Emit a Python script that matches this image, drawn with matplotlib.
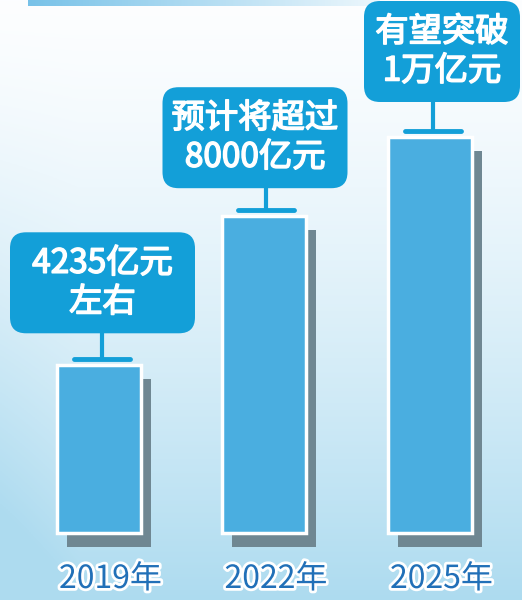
import matplotlib
matplotlib.use('Agg')
import matplotlib.pyplot as plt
import matplotlib.patheffects as pe
from matplotlib.patches import FancyBboxPatch, Rectangle
import numpy as np

# data
years = ['2019年', '2022年', '2025年']
values = [4235, 8000, 10000]
notes = ['4235亿元\n左右', '预计将超过\n8000亿元', '有望突破\n1万亿元']

plt.rcParams['font.family'] = ['Noto Sans CJK SC', 'DejaVu Sans']

# pixel layout helpers (figure is 522x600 px)
W, H = 522, 600
ppv = 0.0396      # pixels per unit value
base_px = 533     # baseline pixel row
x0_px, step_px = 98.5, 165.5

def dxp(px):
    return px / step_px

def dyp(px):
    return px / ppv

fig = plt.figure(figsize=(W / 100, H / 100), dpi=100)
ax = fig.add_axes([0, 0, 1, 1])
ax.set_xlim(-x0_px / step_px, (W - x0_px) / step_px)
ax.set_ylim(-(H - base_px) / ppv, base_px / ppv)
ax.axis('off')

# background gradient, white at top -> light blue at bottom, a bit bluer at the left
gy = np.linspace(0, 1, 256).reshape(-1, 1) ** 1.4
gx = np.clip(1 - np.linspace(0, 1, 256).reshape(1, -1) / 0.15, 0, 1) * 0.25
g = np.clip(gy + gx * gy, 0, 1)
top = np.array([0.99, 0.995, 1.0])
bot = np.array([0.68, 0.86, 0.94])
img = top + (bot - top) * g[:, :, None]
ax.imshow(img, extent=[*ax.get_xlim(), ax.get_ylim()[0], ax.get_ylim()[1]],
          origin='upper', aspect='auto', zorder=0)

# cut-off title strip at the very top
strip = np.linspace(0, 1, 256).reshape(1, -1)
c1 = np.array([0.47, 0.76, 0.91])
c2 = np.array([0.93, 0.97, 0.99])
simg = c1 + (c2 - c1) * strip[:, :, None]
ax.imshow(simg, extent=[dxp(28 - x0_px), dxp(380 - x0_px), dyp(base_px - 6), dyp(base_px)],
          aspect='auto', zorder=1)

x = np.arange(len(years))
bw = dxp(84)

# shadows
for xi, v in zip(x, values):
    ax.add_patch(Rectangle((xi - bw / 2 + dxp(10), dyp(-14)), bw, v,
                           facecolor='#6f8792', edgecolor='none', zorder=2))

ax.bar(x, values, width=bw, color='#4aaee0', edgecolor='white', linewidth=2.5, zorder=3)

# callout boxes
box_dx = [4, -9, 12.5]
box_w = [185, 185, 156]
box_h = 101
gap = [32, 28, 35]
stem_dx = [3.5, 1.5, 3.5]
blue = '#139fd8'

for xi, v, note, bdx, bwid, g, sdx in zip(x, values, notes, box_dx, box_w, gap, stem_dx):
    cx = xi + dxp(bdx)
    yb = v + dyp(g)
    ax.add_patch(FancyBboxPatch((cx - dxp(bwid) / 2, yb), dxp(bwid), dyp(box_h),
                                boxstyle='round,pad=0,rounding_size=%f' % dxp(16),
                                mutation_aspect=step_px / ppv,
                                facecolor=blue, edgecolor='none', zorder=4))
    ax.text(cx, yb + dyp(box_h / 2), note, ha='center', va='center', color='white',
            fontsize=24, linespacing=1.15, zorder=5,
            path_effects=[pe.withStroke(linewidth=1.1, foreground='white')])
    sx = xi + dxp(sdx)
    ax.plot([sx, sx], [yb, v + dyp(6)], color=blue, lw=3, zorder=4, solid_capstyle='butt')
    ax.plot([sx - dxp(28), sx + dxp(28)], [v + dyp(6)] * 2, color=blue, lw=3.5, zorder=4,
            solid_capstyle='round')

# year labels
for xi, yr in zip(x, years):
    ax.text(xi + dxp(12), dyp(-46), yr, ha='center', va='center', color='#2170b8',
            fontsize=23, family=['Liberation Sans Narrow', 'Noto Sans CJK SC'], zorder=5,
            path_effects=[pe.withStroke(linewidth=4, foreground='white')])

fig.savefig('out.png', dpi=100)
